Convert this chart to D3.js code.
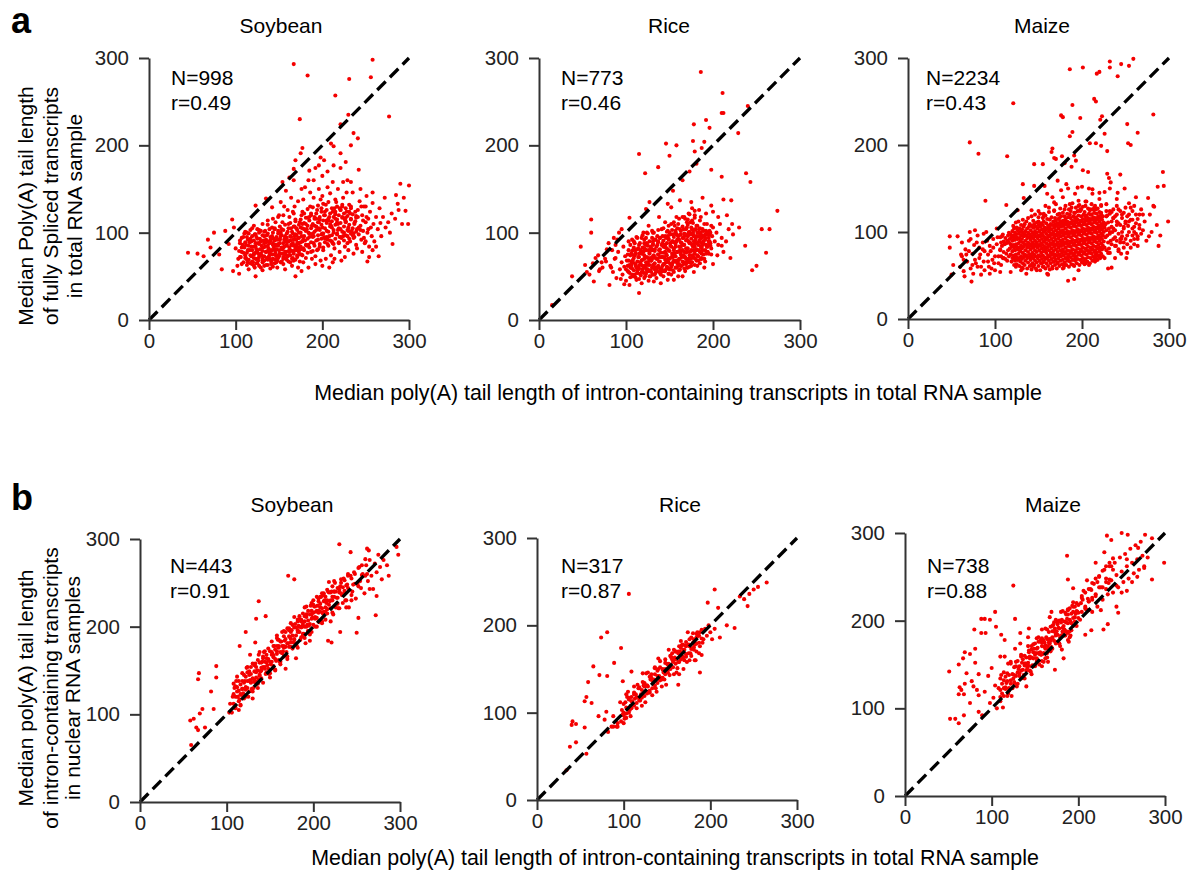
<!DOCTYPE html>
<html><head><meta charset="utf-8">
<script src="https://cdn.jsdelivr.net/npm/d3@7"></script>
<style>body{margin:0;background:#fff} svg{display:block} text{font-family:Arial,"Liberation Sans",sans-serif}</style>
</head><body><svg id="c" width="1193" height="875"></svg>
<script>
// ---------- data ----------
const crops = ["Soybean", "Rice", "Maize"];
const nRowA = [998, 773, 2234];
const rRowA = ["0.49", "0.46", "0.43"];
const nRowB = [443, 317, 738];
const rRowB = ["0.91", "0.87", "0.88"];
const tickValues = [0, 100, 200, 300];
const xLabel = "Median poly(A) tail length of intron-containing transcripts in total RNA sample";
const yLabelA = ["Median Poly(A) tail length", "of fully Spliced transcripts", "in total RNA sample"];
const yLabelB = ["Median poly(A) tail length", "of intron-containing transcripts", "in nuclear RNA samples"];

// x,y pairs (a representative subset of each cloud)
const soyA = [167,293,183,280,258,298,256,278,231,276,215,257,277,233,174,230,230,235,221,224,236,214,241,208,177,197,175,191,169,183,167,173,210,202,213,199,233,200,221,191,198,186,202,183,213,177,221,174,227,181,242,172,185,171,192,174,167,160,162,163,154,158,190,160,229,160,233,158,142,129,123,131,135,139,290,156,300,154,285,143,287,133,296,125,299,110,281,87,252,67,265,73,273,106,267,111,45,77,56,76,63,73,68,92,75,100,84,58,97,56,96,115,104,53,123,50,208,60,169,50,98,106,88,102,71,83,81,75,92,87,
100,82,103,70,105,91,107,64,109,77,110,99,112,86,113,69,115,58,116,80,117,93,118,73,119,105,120,66,121,84,122,60,123,77,124,95,125,70,126,88,127,62,128,81,129,102,130,74,131,57,132,91,133,68,134,84,135,78,136,97,137,63,138,72,139,88,140,59,141,80,142,106,143,70,144,93,145,65,146,77,147,85,148,60,149,99,150,73,151,88,152,66,153,81,154,112,155,70,156,92,157,58,158,78,159,86,160,101,161,67,162,83,163,74,164,95,165,62,166,88,167,79,168,107,169,69,170,92,171,84,172,60,173,100,174,75,175,89,
104,79,108,86,111,74,114,92,118,84,121,71,124,81,126,68,129,90,131,79,133,96,136,71,138,82,140,91,142,75,144,83,146,69,148,92,150,80,152,96,154,76,156,84,158,71,160,90,162,78,164,86,166,71,168,96,170,80,172,88,174,67,123,88,127,75,131,66,135,89,139,77,143,88,147,73,151,76,155,83,159,94,163,66,167,85,171,74,175,81,113,100,117,65,125,104,137,109,145,104,153,104,161,110,169,115,102,62,106,72,110,83,114,66,132,83,141,67,149,85,157,75,165,79,173,82,
176,96,177,110,178,82,179,122,180,91,181,71,182,104,183,117,184,86,185,95,186,130,187,78,188,108,189,99,190,88,191,118,192,73,193,103,194,126,195,92,196,112,197,84,198,138,199,98,200,106,201,80,202,120,203,93,204,132,205,102,206,87,207,114,208,96,209,145,210,108,211,90,212,124,213,100,214,82,215,116,216,135,217,98,218,110,219,88,220,128,221,104,222,94,223,118,224,140,225,100,226,84,227,112,228,124,229,96,230,106,231,132,232,90,233,116,234,102,235,146,236,94,237,110,238,124,239,86,240,104,241,118,242,98,243,136,244,108,245,92,246,120,247,102,248,130,249,88,250,112,251,142,252,100,253,116,254,84,255,124,256,106,257,96,258,134,259,110,260,90,
162,118,166,124,170,105,174,112,176,120,160,126,168,130,164,140,172,136,178,138,156,130,150,120,146,112,152,135,158,148,180,152,186,146,184,160,176,150,196,150,206,152,200,165,212,158,218,150,224,158,206,170,196,177,190,140,200,142,228,146,244,150,250,130,258,146,262,118,264,104,266,128,268,96,270,118,272,140,276,112,278,100,280,122,284,116,288,126,292,110,294,140,262,84,258,80,254,72,246,78,240,82,236,76,230,80,226,72,220,78,214,70,210,74,204,70,198,68,192,64,188,70,184,60,178,66,176,56,200,62,212,66,222,68,
107,83,112,71,116,89,119,64,122,98,125,77,128,93,131,70,134,102,137,79,140,95,143,61,146,86,149,74,152,100,155,64,158,90,161,79,164,105,167,68,170,97,173,88,176,75,179,104,182,85,185,118,188,96,191,108,194,80,197,115,200,99,203,124,206,92,209,110,212,88,215,121,218,103,221,126,224,96,227,117,230,102,233,128,236,99,239,119,242,106,245,130,248,94,251,118,
109,95,114,80,118,90,121,76,124,65,127,100,130,85,133,62,136,90,139,70,142,96,145,80,148,68,151,93,154,81,157,96,160,73,163,91,166,99,169,85,172,94,175,106,178,92,181,110,184,100,187,122,190,96,193,116,196,105,199,128,202,95,205,114,208,118,211,106,214,128,217,112,220,95,223,130,226,115,229,88,232,122,235,97,238,113,241,126,244,103,247,114,250,90,253,104];
// dense core of the soybean (a) cloud, read column by column: [x, [y...]]
const soyACore = [[105,[72,88]],[107,[78,94]],[109,[66,84]],[111,[71,89,101]],[113,[63,77,95]],[115,[69,85,99]],[117,[74,90,103]],[119,[67,80,96]],[121,[62,75,91,108]],[123,[70,84,98]],[125,[65,79,93]],[127,[72,87,103]],[129,[60,76,90]],[131,[68,83,97,110]],[133,[73,88,101]],[135,[63,78,92]],[137,[69,85,99,114]],[139,[74,90,104]],[141,[64,79,93]],[143,[70,86,100,116]],[145,[75,91,105]],[147,[66,81,95]],[149,[71,87,102,118]],[151,[76,92,107]],[153,[67,83,97]],[155,[72,88,103,120]],[157,[78,94,109]],[159,[69,85,99]],[161,[74,90,105]],[163,[80,96,111]],[165,[70,86,101]],[167,[76,92,107,122]],[169,[82,98,113]],[171,[72,88,103]],[173,[78,94,109]],[175,[84,100,115]],[177,[74,90,105,124]],[179,[80,96,111]],[181,[86,102,117]],[183,[77,93,108,127]],[185,[83,99,114]],[187,[89,105,120]],[189,[79,95,110,129]],[191,[85,101,116]],[193,[91,107,122]],[195,[81,97,112,131]],[197,[87,103,118]],[199,[93,109,124]],[201,[83,99,114,133]],[203,[89,105,120]],[205,[95,111,126]],[207,[85,101,116,135]],[209,[91,107,122]],[211,[97,113,128]],[213,[87,103,118]],[215,[93,109,124,138]],[217,[99,115,130]],[219,[89,105,120]],[221,[95,111,126]],[223,[101,117,132]],[225,[91,107,122]],[227,[97,113,128]],[229,[103,119]],[231,[93,109,124]],[233,[99,115,130]],[235,[105,121]],[237,[95,111]],[239,[101,117]]];

const riceA = [186,284,211,260,210,237,212,237,240,245,178,224,192,229,196,220,190,204,187,197,177,205,179,193,146,202,158,200,115,190,137,175,122,168,150,188,173,170,181,179,198,172,210,164,229,214,238,168,243,158,274,125,256,104,265,104,261,77,245,57,250,62,237,85,220,71,230,106,212,138,221,137,15,17,38,50,48,84,60,115,60,100,78,81,65,71,73,60,53,63,63,44,81,40,115,31,104,117,123,127,127,135,148,133,154,148,165,160,
77,67,83,60,69,56,88,71,102,62,121,82,131,63,148,46,171,60,187,71,196,98,198,75,210,85,223,98,192,122,179,125,171,115,152,129,162,137,175,135,188,140,198,131,
82,62,85,55,87,70,89,48,91,78,93,58,95,66,96,52,97,84,98,61,99,73,100,45,101,68,102,56,103,90,104,63,105,49,106,76,107,59,108,69,109,83,110,52,111,64,112,95,113,57,114,72,115,47,116,66,117,80,118,55,119,62,120,100,121,70,122,50,123,59,124,88,125,66,126,45,127,76,128,57,129,68,130,94,131,52,132,63,133,81,134,71,135,48,136,60,137,90,138,67,139,55,140,77,141,104,142,62,143,50,144,72,145,86,146,58,147,68,148,96,149,53,150,79,151,64,152,110,153,73,154,57,155,89,156,67,157,102,158,60,159,78,160,50,161,92,162,70,163,84,164,62,165,118,166,74,167,96,168,56,169,82,170,106,171,66,172,90,173,78,174,112,175,62,176,86,177,100,178,72,179,120,180,92,181,80,182,108,183,68,184,96,185,114,186,84,187,76,188,104,189,90,190,70,191,98,192,86,193,110,194,78,195,94,196,102,197,88,198,82,199,96,200,106,202,90,204,100,206,86,208,110,210,94,
100,58,102,75,104,54,106,67,108,50,110,74,112,60,114,82,116,53,118,68,120,78,122,62,124,72,126,56,128,84,130,60,132,74,134,54,136,70,138,80,140,58,142,88,144,64,146,76,148,60,150,70,152,84,154,66,156,76,158,90,160,68,162,80,164,72,166,86,168,66,170,78,172,70,174,88,176,74,178,96,180,70,182,88,184,80,186,100,188,86,190,110,192,76,194,98,196,90,198,108,110,88,114,58,118,94,122,86,126,80,130,70,134,92,138,60,142,72,146,94,150,58,154,98,158,68,162,58,166,64,170,60,174,70,178,80,182,62,186,70,108,80,112,46,120,54,128,50,136,56,144,56,152,52,160,62,168,72,176,66,184,90,103,80,107,92,115,76,123,94,131,86,139,94,147,82,155,80,163,98,171,98,179,88,187,94,195,86,150,100,156,108,162,104,168,116,174,98,180,104,186,118,192,102,176,128,184,126,172,122,158,118,145,112,138,118,132,100,126,108,
94,47,98,41,104,40,118,42,132,44,140,42,155,46,165,50,178,55,190,60,200,64,205,74,212,78,215,90,218,104,222,110,216,120,206,118,200,124,55,55,62,65,68,74,72,66,76,70,80,88,84,80,86,94,90,92,92,100,95,104,88,86,70,58,58,52,
106,62,109,74,113,54,116,88,119,58,122,81,125,63,128,71,131,90,134,60,137,75,140,52,143,84,146,66,149,92,152,61,155,74,158,98,161,64,164,88,167,78,170,92,173,66,176,104,179,84,182,74,185,96,188,80,191,92,194,84,
108,66,111,80,115,62,118,76,121,92,124,56,127,68,130,80,133,58,136,86,139,72,142,56,145,78,148,70,151,88,154,72,157,84,160,96,163,78,166,94,169,70,172,100,175,80,178,90,181,96,184,104,187,88,190,96,193,100,170,112,176,114,182,100,166,104,160,110,154,90,148,102,142,96,136,96,130,102,124,100];
const riceACore = [[103,[55,68]],[105,[60,74,86]],[107,[52,65,79]],[109,[57,71,90]],[111,[49,62,76]],[113,[54,67,81,94]],[115,[59,72,86]],[117,[51,64,78]],[119,[56,69,83,97]],[121,[48,61,74,88]],[123,[53,66,80]],[125,[58,71,85,99]],[127,[50,63,77,90]],[129,[55,68,82]],[131,[60,73,87,100]],[133,[52,65,79,92]],[135,[57,70,84]],[137,[62,75,89,103]],[139,[54,67,81,94]],[141,[59,72,86]],[143,[64,77,91,105]],[145,[56,69,83,96]],[147,[61,74,88,101]],[149,[53,66,80,93,108]],[151,[58,71,85,98]],[153,[63,76,90,103]],[155,[55,68,82,95,112]],[157,[60,73,87,100]],[159,[65,78,92,105]],[161,[57,70,84,97,116]],[163,[62,75,89,102]],[165,[67,80,94,107]],[167,[59,72,86,99,118]],[169,[64,77,91,104]],[171,[69,82,96,109]],[173,[61,74,88,101,121]],[175,[66,79,93,106]],[177,[71,84,98,111]],[179,[63,76,90,103,117]],[181,[68,81,95,108]],[183,[73,86,100]],[185,[65,78,92,105]],[187,[70,83,97]],[189,[75,88,102]],[191,[67,80,94]],[193,[84,98]],[195,[76,90]],[197,[85,100]]];

const maizeA = [186,287,201,289,217,282,220,284,232,296,232,289,245,293,259,299,254,291,241,279,121,248,71,203,81,190,114,187,176,234,178,232,189,246,198,231,214,253,216,250,221,229,223,233,189,215,186,210,209,202,216,202,222,199,226,213,229,193,252,224,264,214,282,235,253,202,256,200,293,169,287,152,294,153,299,112,283,129,276,139,270,120,270,102,277,95,264,95,245,75,251,70,230,58,234,59,145,178,155,178,165,192,168,185,177,187,89,136,113,131,133,139,142,125,126,125,48,95,48,82,57,95,71,100,77,102,61,74,52,62,50,51,73,43,65,49,84,51,184,44,191,46,161,51,
166,196,170,184,180,179,188,175,191,188,193,182,201,171,207,169,229,167,231,162,233,157,244,166,249,150,241,145,254,133,260,130,268,126,264,115,253,107,245,92,239,84,230,76,132,155,145,153,157,153,172,159,182,155,195,151,212,149,220,145,
60,60,62,72,64,55,66,80,68,66,70,90,72,58,74,75,76,85,78,64,80,96,82,70,84,60,86,88,88,78,90,100,92,66,94,84,96,58,98,92,100,72,102,104,104,64,106,80,108,95,110,70,62,88,67,74,72,92,77,68,82,82,87,98,92,74,97,68,102,86,107,62,88,56,94,52,100,56,106,54,75,52,80,60,
64,68,70,78,74,62,79,88,83,74,87,66,91,90,95,78,99,64,103,94,86,80,98,82,104,72,93,60,
150,112,156,118,162,104,168,124,174,116,180,112,186,120,192,116,198,124,204,118,210,126,216,114,222,122,228,118,234,112,158,130,170,132,178,140,188,128,196,136,204,130,212,144,220,138,228,132,236,126,184,150,200,152,214,128,226,146,240,138,166,140,176,148,192,144,208,150,232,150,246,120,160,144,172,108,
232,100,234,86,236,116,238,94,240,108,242,80,244,124,246,100,248,88,250,112,252,96,254,120,256,82,258,104,260,92,262,110,264,84,266,120,268,98,232,124,236,104,240,120,244,92,248,106,252,76,256,114,260,100,238,70,242,110,250,128,258,124,262,140,266,108,272,112,274,90,280,100,286,108,288,84,278,120,282,130,290,96,
118,54,124,60,130,56,136,52,142,62,148,56,154,64,160,52,166,58,172,64,178,58,184,68,190,62,196,56,202,66,208,62,214,68,220,72,226,70,232,76,120,70,132,58,144,60,156,60,168,66,180,62,192,70,204,64,216,74,
150,124,162,128,174,121,186,132,198,126,210,120,222,130,234,123,168,134,180,126,192,122,204,135,216,126,228,124,240,130,156,121,196,130];
const maizeACore = [[106,[79,94]],[107,[72,88]],[108,[84]],[109,[70,97]],[110,[77,89]],[111,[86]],[112,[69,93]],[113,[75,87]],[114,[67,90]],[115,[79,96]],[116,[72,88,99]],[117,[81,92]],[118,[74,86,97]],[119,[66,83,94]],[120,[78,90,101]],[121,[73,85,96,107]],[122,[62,70,82,93,104]],[123,[67,79,91,99]],[124,[74,86,97,111]],[125,[63,71,83,94,105]],[126,[68,80,92,102]],[127,[75,87,98,112]],[128,[61,70,82,93,104]],[129,[66,78,89,100]],[130,[72,84,96,108]],[131,[59,69,81,92,103]],[132,[64,76,88,99,114]],[133,[71,83,95,106]],[134,[62,74,86,97,109]],[135,[67,79,90,101]],[136,[73,85,96,112]],[137,[58,70,82,93,104]],[138,[65,77,88,99,116]],[139,[71,83,94,106]],[140,[61,74,86,97,109]],[141,[68,80,91,102]],[142,[57,72,84,95,107,118]],[143,[64,76,88,99]],[144,[70,82,93,105,113]],[145,[62,74,86,97,109]],[146,[67,79,90,101,120]],[147,[58,72,84,95,106]],[148,[65,77,88,99,111]],[149,[70,82,93,104]],[150,[61,73,85,96,108,117]],[151,[67,79,90,101]],[152,[56,72,84,95,106,121]],[153,[64,76,87,98,110]],[154,[69,81,92,103]],[155,[60,73,85,96,108,116]],[156,[66,78,89,100,112]],[157,[71,83,94,105]],[158,[58,69,80,91,102,119]],[159,[64,76,87,98,110]],[160,[70,82,93,104,115]],[161,[61,73,85,96,107]],[162,[67,79,90,101,123]],[163,[57,72,84,95,106,114]],[164,[64,76,87,98,109]],[165,[69,81,92,103,117]],[166,[60,74,86,97,108]],[167,[66,78,89,100,112]],[168,[71,83,94,105,125]],[169,[62,74,86,97,109,116]],[170,[68,80,91,102,113]],[171,[58,73,85,96,107]],[172,[65,77,88,99,110,120]],[173,[70,82,93,104,115]],[174,[61,74,86,97,108]],[175,[67,79,90,101,112,127]],[176,[72,84,95,106,118]],[177,[63,76,88,99,110]],[178,[68,80,91,102,113,122]],[179,[59,73,85,96,107]],[180,[65,77,88,99,110,118]],[181,[70,82,93,104,115,130]],[182,[62,75,87,98,109]],[183,[67,79,90,101,112,121]],[184,[72,84,95,106,117]],[185,[60,74,86,97,108,126]],[186,[66,78,89,100,111]],[187,[71,83,94,105,116,124]],[188,[63,76,88,99,110]],[189,[68,80,91,102,113,133]],[190,[73,85,96,107,118]],[191,[61,75,87,98,109,122]],[192,[67,79,90,101,112]],[193,[72,84,95,106,117,128]],[194,[64,77,89,100,111]],[195,[69,81,92,103,114,124]],[196,[74,86,97,108,119]],[197,[62,76,88,99,110,131]],[198,[68,80,91,102,113]],[199,[73,85,96,107,118,126]],[200,[65,78,90,101,112]],[201,[70,82,93,104,115,129]],[202,[75,87,98,109,120]],[203,[63,77,89,100,111,123]],[204,[69,81,92,103,114]],[205,[74,86,97,108,119,135]],[206,[66,79,91,102,113]],[207,[71,83,94,105,116,127]],[208,[76,88,99,110,121]],[209,[64,78,90,101,112,125]],[210,[70,82,93,104,115]],[211,[75,87,98,109,120,132]],[212,[67,80,92,103,114]],[213,[72,84,95,106,117,126]],[214,[77,89,100,111,122]],[215,[66,79,91,102,113,130]],[216,[71,83,94,105,116]],[217,[76,88,99,110,121]],[218,[68,81,93,104,115,127]],[219,[73,85,96,107,118]],[220,[78,90,101,112,123]],[221,[70,82,94,105,116]],[222,[75,87,98,109,120,131]],[223,[80,92,103,114]],[224,[72,84,96,107,118]],[225,[89,100,111]],[226,[82,105]],[227,[94,109]],[228,[79,102]],[229,[96,119]],[230,[88,111]],[231,[81,104]],[232,[98,121]],[233,[90]],[234,[106]],[235,[100]],[236,[92,116]],[238,[84,102,118]],[240,[90,112]],[242,[78,98,126]],[244,[88,108]],[246,[95,116]],[248,[82,104,122]],[250,[92,110]],[252,[86,118]],[254,[100,112]],[256,[90,128]],[258,[96,114]],[260,[86,106]],[262,[98,120]],[264,[92]],[266,[104]]];

const soyB = [230,294,243,285,262,289,264,287,296,291,298,282,285,270,287,258,273,235,272,213,265,243,252,210,250,193,231,194,221,182,217,184,171,258,178,254,137,229,145,212,134,209,122,194,115,178,127,168,133,182,137,168,88,155,88,142,68,147,67,140,82,126,85,106,72,106,69,101,58,93,62,95,65,85,75,85,67,82,59,65,
104,112,109,130,106,102,112,126,115,117,111,138,118,129,114,105,121,138,117,122,124,148,120,118,127,139,123,153,129,129,126,145,132,139,130,118,135,150,133,158,137,140,139,149,136,130,142,164,140,153,145,146,143,171,147,156,149,146,146,164,151,157,153,169,150,142,155,178,157,161,154,165,159,185,161,160,158,172,163,183,165,172,162,157,167,184,169,171,166,195,171,181,173,188,170,163,175,196,177,182,174,186,179,203,181,178,178,186,183,201,185,185,182,208,187,200,189,192,186,206,191,181,193,202,190,206,195,201,197,224,194,195,199,210,201,223,198,194,203,217,205,224,202,209,207,205,209,234,206,216,211,215,213,230,210,204,215,227,217,240,
219,229,221,240,223,214,225,250,227,233,229,221,231,246,233,236,235,255,237,230,239,248,241,222,243,258,245,240,247,262,249,232,251,249,253,268,255,244,257,260,259,238,261,270,263,252,265,276,267,258,269,243,271,272,273,262,275,282,277,268,279,254,281,276,
152,168,156,150,160,178,164,170,168,152,172,198,176,176,180,164,184,208,188,190,192,214,196,184,200,230,204,200,208,222,212,238,216,220,220,206,224,240,228,226,232,254,236,238,240,260,244,230,148,162,144,152,141,160,138,144,134,148,131,130,128,136,125,120,122,128,119,124,116,110,113,120,110,108,107,120,103,102,158,190,166,176,174,204,182,196,190,222,198,214,206,232,214,208,222,230,230,242,238,222,246,248,254,252,262,260];
const soyBCore = [[108,[112,123,135]],[110,[107,120,132]],[112,[120,131,143]],[114,[115,127,138]],[116,[111,123,134]],[118,[129,138,147]],[120,[122,136,145]],[122,[120,131,143]],[124,[130,138,154]],[126,[126,138,149]],[128,[137,146,154]],[130,[126,141,158]],[132,[137,149,156]],[134,[137,142,154]],[136,[135,150,162]],[138,[145,159,171]],[140,[141,150,159]],[142,[136,154,166]],[144,[154,160,172]],[146,[148,159,168]],[148,[152,163,175]],[150,[147,160,172]],[152,[160,171,183]],[154,[155,167,178]],[156,[151,163,174]],[158,[169,178,187]],[160,[162,176,185]],[162,[160,171,183]],[164,[170,178,194]],[166,[166,178,189]],[168,[177,186,194]],[170,[166,181,198]],[172,[177,189,196]],[174,[177,182,194]],[176,[175,190,202]],[178,[185,199,211]],[180,[181,190,199]],[182,[176,194,206]],[184,[194,200,212]],[186,[188,199,208]],[188,[192,203,215]],[190,[187,200,212]],[192,[200,211,223]],[194,[195,207,218]],[196,[191,203,214]],[198,[209,218,227]],[200,[202,216,225]],[202,[200,211,223]],[204,[210,218,234]],[206,[206,218,229]],[208,[217,226,234]],[210,[206,221,238]],[212,[217,229,236]],[214,[217,222,234]],[216,[215,230,242]],[218,[225,239,251]],[220,[221,230,239]],[222,[216,234,246]],[224,[234,240,252]],[226,[222,240]],[228,[233,244]],[230,[221,239]],[232,[238,250]],[234,[227,245]],[236,[241,253]],[238,[230,247]],[240,[244,258]],[244,[236,255]],[248,[249,260]],[252,[246,267]],[256,[259,270]],[260,[258,277]]];

const riceB = [106,236,81,192,74,186,97,174,65,153,89,157,72,143,81,142,59,135,99,136,109,147,122,145,57,118,55,113,63,111,41,90,40,86,45,87,55,83,78,92,80,101,71,96,38,61,45,66,57,53,34,34,88,84,93,84,82,78,205,241,197,226,209,220,234,233,239,230,245,236,250,241,265,249,255,244,243,222,219,200,228,197,211,186,188,146,182,160,163,132,105,124,
98,103,101,93,104,118,100,100,106,115,108,96,103,121,110,113,112,123,107,103,114,121,116,132,111,109,118,128,120,121,115,105,122,135,124,130,119,114,126,145,128,130,123,131,130,123,132,144,127,131,134,133,136,151,131,138,138,124,140,150,135,138,142,159,144,138,139,148,146,146,148,161,143,140,150,156,152,172,147,138,154,165,156,161,151,149,158,172,160,161,155,163,162,151,164,176,159,163,166,182,168,164,163,170,170,172,172,164,167,177,174,192,176,176,171,177,178,165,180,191,
182,178,184,170,186,188,188,176,190,166,192,184,194,196,183,160,187,168,191,180,196,188,198,200,200,192,202,184,205,196,185,192,181,172,177,168,173,158,169,150,165,170,161,146,157,158,153,143,149,132,145,150,141,142,137,128,133,120,129,124,125,112,121,108,117,128,113,116,109,118,105,104,102,112,
96,112,99,98,103,94,97,90,93,88,88,96,92,84,86,84,100,88,108,108,112,130,118,116,124,134,128,146,132,140,136,152,140,162,144,130,148,150,152,156,156,168,160,170,164,158,168,178,172,176,176,184,180,180,184,186,188,192,176,160,170,160,164,144,158,144];
const riceBCore = [[100,[97,110]],[103,[106,99]],[106,[100,117]],[109,[113,105]],[112,[108,121]],[115,[118,111]],[118,[114,129]],[121,[126,117]],[124,[119,133]],[127,[131,122]],[130,[125,141]],[133,[137,128]],[136,[131,144]],[139,[142,134]],[142,[137,152]],[145,[149,140]],[148,[144,157]],[151,[155,146]],[154,[150,165]],[157,[160,152]],[160,[156,170]],[163,[168,158]],[166,[161,174]],[169,[172,163]],[172,[167,181]],[175,[178,168]],[178,[173,186]],[181,[184,175]],[184,[179,190]],[187,[188,180]],[190,[185,195]]];

const maizeB = [233,297,238,292,250,300,257,298,277,298,285,294,269,283,299,266,285,247,268,250,276,262,256,234,230,278,220,266,187,274,188,247,125,240,104,210,92,202,88,202,98,201,80,190,88,186,93,186,111,184,127,202,133,186,105,193,69,164,75,162,81,168,81,152,67,157,51,142,71,140,85,139,96,137,115,159,68,116,62,116,65,121,79,125,85,115,75,106,68,92,58,88,52,88,62,83,85,96,89,92,98,106,
62,150,69,128,77,131,63,124,83,121,92,119,100,146,110,159,115,178,119,151,127,168,133,174,142,181,143,191,158,190,169,210,167,204,188,212,194,237,204,228,215,235,235,243,244,216,246,209,234,196,229,190,215,189,208,184,188,178,181,167,173,144,165,153,183,157,192,189,
102,112,106,100,104,126,110,113,108,123,113,101,111,138,116,122,114,132,119,117,117,129,122,153,120,120,125,134,123,114,128,148,126,130,131,145,129,125,134,159,132,140,137,138,135,152,140,125,138,149,143,166,141,146,146,139,144,157,149,168,147,149,152,180,150,149,155,162,153,169,158,148,156,177,161,170,159,162,164,190,162,157,167,179,165,171,170,188,168,165,173,187,171,195,176,176,174,184,179,171,177,192,182,187,180,210,185,183,183,194,188,207,186,187,191,199,189,176,194,216,
142,149,148,164,145,142,151,163,154,176,157,161,160,153,163,181,166,175,169,170,172,198,175,188,178,174,181,201,184,190,187,202,190,181,193,217,196,199,199,210,202,201,205,224,208,216,211,225,146,171,152,154,158,175,164,158,170,180,176,199,182,187,188,186,194,210,200,209,206,234,212,212,139,151,143,164,155,150,161,175,167,174,173,191,179,181,185,209,191,183,197,208,203,220,209,213,
212,222,214,236,216,210,218,242,220,228,222,216,224,250,226,238,228,224,230,258,232,244,234,230,236,262,238,246,240,232,242,266,244,252,246,238,248,272,250,256,252,244,254,276,256,262,258,248,260,282,262,266,264,254,266,286,268,270,270,258,272,290,274,274,276,260,280,272,210,246,216,226,222,244,226,212,232,236,238,262,244,240,250,232,256,270,262,244];
const maizeBCore = [[110,[108,121,134]],[112,[117,128]],[114,[114,123,141]],[116,[124,136]],[118,[114,131,140]],[120,[123,138]],[122,[128,132,151]],[124,[123,139]],[126,[128,138,147]],[128,[137,153]],[130,[128,141,154]],[132,[137,148]],[134,[134,143,161]],[136,[144,156]],[138,[134,151,160]],[140,[143,158]],[142,[148,152,171]],[144,[143,159]],[146,[148,158,167]],[148,[157,173]],[150,[148,161,174]],[152,[157,168]],[154,[154,163,181]],[156,[164,176]],[158,[154,171,180]],[160,[163,178]],[162,[168,172,191]],[164,[163,179]],[166,[168,178,187]],[168,[177,193]],[170,[168,181,194]],[172,[177,188]],[174,[174,183,201]],[176,[184,196]],[178,[174,191,200]],[180,[183,198]],[182,[188,192,211]],[184,[183,199]],[186,[188,198,207]],[188,[197,213]],[190,[188,201,214]],[192,[197,208]],[194,[194,203,221]],[196,[204,216]],[198,[194,211,220]],[200,[203,218]],[204,[210,226]],[208,[214,232]],[212,[222,236]],[216,[224,243]],[220,[230,248]],[224,[238,251]],[228,[238,257]],[232,[248,262]],[236,[247,266]],[240,[258,271]]];

// ---------- layout ----------
const panels = [
  {title: crops[0], n: nRowA[0], r: rRowA[0], pts: soyA,  core: soyACore,  x0: 149, x1: 409, y0: 320, y1: 58,  tx: 281, ty: 33,  lx: 171, ly: 85},
  {title: crops[1], n: nRowA[1], r: rRowA[1], pts: riceA, core: riceACore, x0: 539, x1: 800, y0: 320, y1: 58,  tx: 669, ty: 33,  lx: 561, ly: 85},
  {title: crops[2], n: nRowA[2], r: rRowA[2], pts: maizeA,core: maizeACore,x0: 908, x1: 1169,y0: 319, y1: 58,  tx: 1042,ty: 33,  lx: 926, ly: 85},
  {title: crops[0], n: nRowB[0], r: rRowB[0], pts: soyB,  core: soyBCore,  x0: 140, x1: 400, y0: 802, y1: 539, tx: 292, ty: 512, lx: 170, ly: 573},
  {title: crops[1], n: nRowB[1], r: rRowB[1], pts: riceB, core: riceBCore, x0: 537, x1: 797, y0: 800, y1: 538, tx: 680, ty: 512, lx: 561, ly: 573},
  {title: crops[2], n: nRowB[2], r: rRowB[2], pts: maizeB,core: maizeBCore,x0: 905, x1: 1165,y0: 796, y1: 533, tx: 1053,ty: 512, lx: 927, ly: 573}
];

const svg = d3.select("#c");
const FS = 21, TFS = 20.5, AXC = "#333";

function pairs(a){ const o=[]; for(let i=0;i<a.length;i+=2) o.push([a[i],a[i+1]]); return o; }
function cols(c){ return c.flatMap(([xv, ys]) => ys.map(yv => [xv, yv])); }

panels.forEach(p => {
  const x = d3.scaleLinear().domain([0,300]).range([p.x0,p.x1]);
  const y = d3.scaleLinear().domain([0,300]).range([p.y0,p.y1]);
  const g = svg.append("g");
  const data = pairs(p.pts).concat(cols(p.core));
  g.append("g").selectAll("circle").data(data).join("circle")
    .attr("cx", d => x(d[0])).attr("cy", d => y(d[1])).attr("r", 2.05).attr("fill", "#f40000");
  g.append("path").datum([[0,0],[300,300]])
    .attr("d", d3.line().x(d => x(d[0])).y(d => y(d[1])))
    .attr("stroke", "#000").attr("stroke-width", 3.3).attr("stroke-dasharray", "12,6").attr("fill", "none");
  const ax = g.append("g").attr("transform", `translate(0,${p.y0})`)
    .call(d3.axisBottom(x).tickValues(tickValues).tickSize(10).tickPadding(3).tickSizeOuter(0));
  const ay = g.append("g").attr("transform", `translate(${p.x0},0)`)
    .call(d3.axisLeft(y).tickValues(tickValues).tickSize(10).tickPadding(10).tickSizeOuter(0));
  [ax, ay].forEach(a => {
    a.select(".domain").attr("stroke", AXC).attr("stroke-width", 2);
    a.selectAll(".tick line").attr("stroke", AXC).attr("stroke-width", 2);
    a.selectAll(".tick text").attr("fill", "#222").attr("font-size", TFS).attr("font-family", "Arial, 'Liberation Sans', sans-serif");
  });
  g.append("text").attr("x", p.tx).attr("y", p.ty).attr("text-anchor", "middle").attr("font-size", FS).text(p.title);
  g.append("text").attr("x", p.lx).attr("y", p.ly).attr("font-size", FS).text("N=" + p.n);
  g.append("text").attr("x", p.lx).attr("y", p.ly + 25).attr("font-size", FS).text("r=" + p.r);
});

// panel letters
svg.append("text").attr("x", 11).attr("y", 33).attr("font-size", 36).attr("font-weight", "bold").text("a");
svg.append("text").attr("x", 11).attr("y", 510).attr("font-size", 36).attr("font-weight", "bold").text("b");

// x labels
svg.append("text").attr("x", 678).attr("y", 400).attr("text-anchor", "middle").attr("font-size", 21.4).text(xLabel);
svg.append("text").attr("x", 675).attr("y", 865).attr("text-anchor", "middle").attr("font-size", 21.4).text(xLabel);

// y labels
function yLab(lines, cy, xs){
  lines.forEach((t,i) => {
    svg.append("text").attr("transform", `translate(${xs[i]},${cy}) rotate(-90)`)
      .attr("text-anchor", "middle").attr("font-size", FS).text(t);
  });
}
yLab(yLabelA, 206, [33, 57.5, 82]);
yLab(yLabelB, 688, [33, 57.5, 80]);
</script></body></html>
